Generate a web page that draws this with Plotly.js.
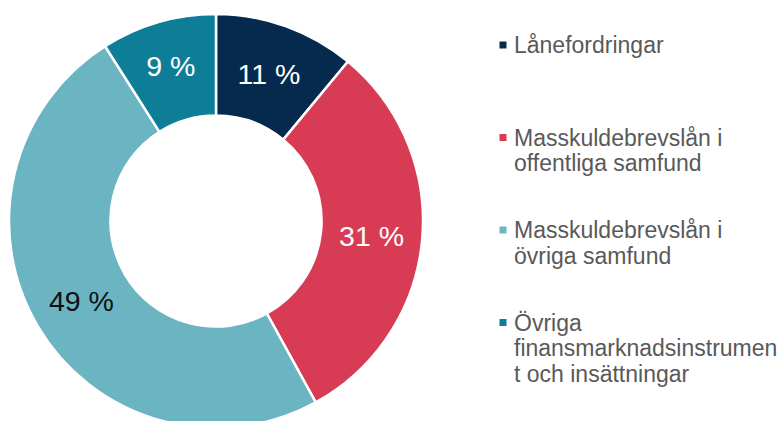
<!DOCTYPE html>
<html>
<head>
<meta charset="utf-8">
<script src="https://cdn.plot.ly/plotly-3.0.1.min.js"></script>
<style>
  html, body { margin: 0; padding: 0; overflow: hidden; background: #ffffff; }
  #chart { width: 779px; height: 440px; }
</style>
</head>
<body>
<div id="chart"></div>
<script>
// ---- data ----
const categories = [
  "Lånefordringar",
  "Masskuldebrevslån i<br>offentliga samfund",
  "Masskuldebrevslån i<br>övriga samfund",
  "Övriga<br>finansmarknadsinstrumen<br>t och insättningar"
];
const shares = [11, 31, 49, 9];
const sliceColors = ["#062a4d", "#d83c55", "#6bb4c2", "#0e7e98"];
const labelColors = ["#ffffff", "#ffffff", "#111111", "#ffffff"];

// ---- layout constants ----
const W = 779, H = 440;
const FONT = "Liberation Sans, Arial, sans-serif";
const legendStartY = 45, legendStep = 92.5, legendLineH = 25.7;
const legendMarkerX = 503, legendTextX = 512, markerSize = 7;

const trace = {
  type: "pie",
  labels: categories,
  values: shares,
  sort: false,
  direction: "clockwise",
  rotation: 0,
  hole: 0.51,
  domain: { x: [9 / W, 423 / W], y: [1 - 428 / H, 1 - 14 / H] },
  marker: { colors: sliceColors, line: { color: "#ffffff", width: 2.5 } },
  texttemplate: "%{value} %",
  textposition: "inside",
  insidetextorientation: "horizontal",
  insidetextfont: { family: FONT, size: 28.5, color: labelColors },
  hoverinfo: "skip",
  showlegend: false
};

const annotations = [];
const shapes = [];
categories.forEach((cat, i) => {
  const y0 = legendStartY + i * legendStep;
  shapes.push({
    type: "rect", xref: "paper", yref: "paper",
    x0: (legendMarkerX - markerSize / 2) / W, x1: (legendMarkerX + markerSize / 2) / W,
    y0: 1 - (y0 + markerSize / 2) / H, y1: 1 - (y0 - markerSize / 2) / H,
    fillcolor: sliceColors[i], line: { width: 0 }
  });
  cat.split("<br>").forEach((line, j) => {
    annotations.push({
      xref: "paper", yref: "paper",
      x: legendTextX / W, y: 1 - (y0 + j * legendLineH) / H,
      xanchor: "left", yanchor: "middle",
      text: line, showarrow: false,
      font: { family: FONT, size: 23, color: "#595959" }
    });
  });
});

const layout = {
  width: W, height: H,
  margin: { l: 0, r: 0, t: 0, b: 0 },
  paper_bgcolor: "#ffffff",
  plot_bgcolor: "#ffffff",
  showlegend: false,
  annotations: annotations,
  shapes: shapes
};

Plotly.newPlot("chart", [trace], layout, { displayModeBar: false, staticPlot: true });
</script>
</body>
</html>
